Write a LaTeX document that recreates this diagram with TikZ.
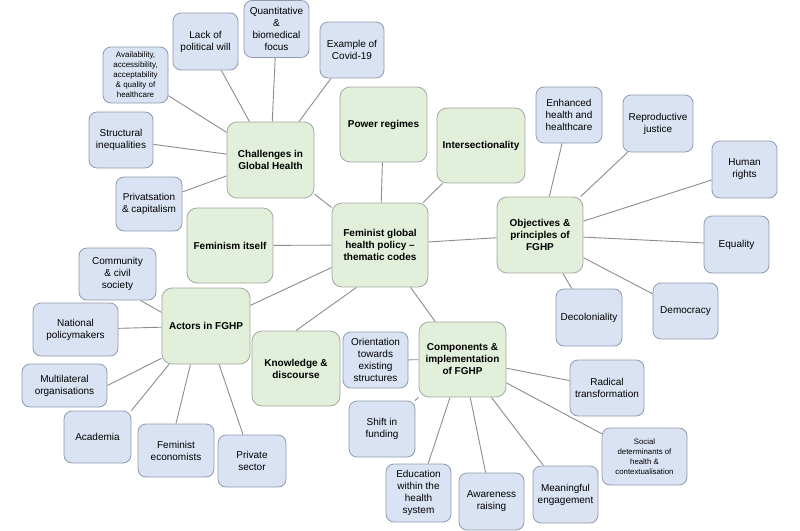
\documentclass[tikz,border=0pt]{standalone}
\usepackage{fontspec}
\setmainfont{Liberation Sans}
\usetikzlibrary{backgrounds}
\definecolor{hubfill}{HTML}{E2EFDA}
\definecolor{hubdraw}{HTML}{A3A8A0}
\definecolor{satfill}{HTML}{DAE3F3}
\definecolor{satdraw}{HTML}{8E9BAE}
\definecolor{linkc}{HTML}{8C8C8C}
\begin{document}
\begin{tikzpicture}[x=1pt,y=-1pt,
  wh/.style 2 args={minimum width=#1pt, minimum height=#2pt},
  hub/.style={draw=hubdraw, fill=hubfill, rounded corners=10pt, line width=0.8pt, align=center, inner sep=1pt, font=\bfseries\fontsize{10}{12}\selectfont},
  sat/.style={draw=satdraw, fill=satfill, rounded corners=8pt, line width=0.8pt, align=center, inner sep=1pt, font=\fontsize{10}{12}\selectfont},
  small/.style={font=\fontsize{8}{10}\selectfont},
  tiny/.style={font=\fontsize{7.8}{10}\selectfont},
  link/.style={draw=linkc, line width=0.9pt}]
\useasboundingbox (0,0) rectangle (800,530);
% hubs
\node[hub,wh={87}{76}] (chal) at (270.5,160) {Challenges in\\Global Health};
\node[hub,wh={87}{75}] (power) at (383.5,124.5) {Power regimes};
\node[hub,wh={88}{75}] (inter) at (481,145.5) {Intersectionality};
\node[hub,wh={96}{84}] (fem) at (380,245) {Feminist global\\health policy –\\thematic codes};
\node[hub,wh={86}{76}] (obj) at (540,235) {Objectives \&\\principles of\\FGHP};
\node[hub,wh={87}{75}] (comp) at (462.5,359.5) {Components \&\\implementation\\of FGHP};
\node[hub,wh={88}{75}] (know) at (296,368.5) {Knowledge \&\\discourse};
\node[hub,wh={86}{75}] (femself) at (230,245.5) {Feminism itself};
\node[hub,wh={88}{76}] (actors) at (206,326) {Actors in FGHP};
% challenges satellites
\node[sat,wh={65}{57}] (lack) at (205.5,41.5) {Lack of\\political will};
\node[sat,wh={65}{57}] (quant) at (276.5,29) {Quantitative\\\&\\biomedical\\focus};
\node[sat,wh={64}{56}] (covid) at (352,50) {Example of\\Covid-19};
\node[sat,small,wh={65}{56}] (avail) at (135.5,75) {Availability,\\accessibility,\\acceptability\\\& quality of\\healthcare};
\node[sat,wh={64}{56}] (struct) at (121,140) {Structural\\inequalities};
\node[sat,wh={66}{54}] (priv) at (149,204) {Privatsation\\\& capitalism};
% objectives satellites
\node[sat,wh={66}{56}] (enh) at (569,115) {Enhanced\\health and\\healthcare};
\node[sat,wh={70}{57}] (repro) at (658,123.5) {Reproductive\\justice};
\node[sat,wh={65}{57}] (human) at (744.5,169.5) {Human\\rights};
\node[sat,wh={65}{57}] (equal) at (736.5,244.5) {Equality};
\node[sat,wh={65}{56}] (demo) at (685.5,311) {Democracy};
\node[sat,wh={66}{57}] (decol) at (589,317.5) {Decoloniality};
% components satellites
\node[sat,wh={65}{56}] (orient) at (375.5,360) {Orientation\\towards\\existing\\structures};
\node[sat,wh={74}{56}] (radical) at (607,388) {Radical\\transformation};
\node[sat,tiny,wh={85}{57}] (social) at (644.5,456.5) {Social\\determinants of\\health \&\\contextualisation};
\node[sat,wh={65}{57}] (meaning) at (565.5,494.5) {Meaningful\\engagement};
\node[sat,wh={65}{57}] (aware) at (491.5,501.5) {Awareness\\raising};
\node[sat,wh={65}{58}] (educ) at (418.5,493) {Education\\within the\\health\\system};
\node[sat,wh={66}{56}] (shift) at (382,429) {Shift in\\funding};
% actors satellites
\node[sat,wh={77}{52}] (comm) at (117.5,274) {Community\\\& civil\\society};
\node[sat,wh={85}{53}] (natl) at (75.5,329.5) {National\\policymakers};
\node[sat,wh={85}{43}] (multi) at (64.5,385.5) {Multilateral\\organisations};
\node[sat,wh={67}{52}] (acad) at (97.5,437) {Academia};
\node[sat,wh={76}{53}] (femecon) at (176,450.5) {Feminist\\economists};
\node[sat,wh={68}{52}] (private) at (252,461) {Private\\sector};
\begin{pgfonlayer}{background}
\foreach \s in {lack,quant,covid,avail,struct,priv} \draw[link] (chal) -- (\s);
\foreach \s in {chal,power,inter,femself,actors,obj,comp} \draw[link] (fem) -- (\s);
\draw[link] (know.north) -- (fem.241);
\foreach \s in {enh,repro,human,equal,demo,decol} \draw[link] (obj) -- (\s);
\foreach \s in {orient,shift,educ,aware,meaning,social,radical} \draw[link] (comp) -- (\s);
\draw[link] (comm.311) -- (actors.163);
\draw[link] (natl) -- (actors);
\draw[link] (multi.east) -- (actors.216);
\draw[link] (acad.north east) -- (actors.226);
\draw[link] (femecon.north) -- (actors.248);
\draw[link] (private) -- (actors);
\end{pgfonlayer}
\end{tikzpicture}
\end{document}
